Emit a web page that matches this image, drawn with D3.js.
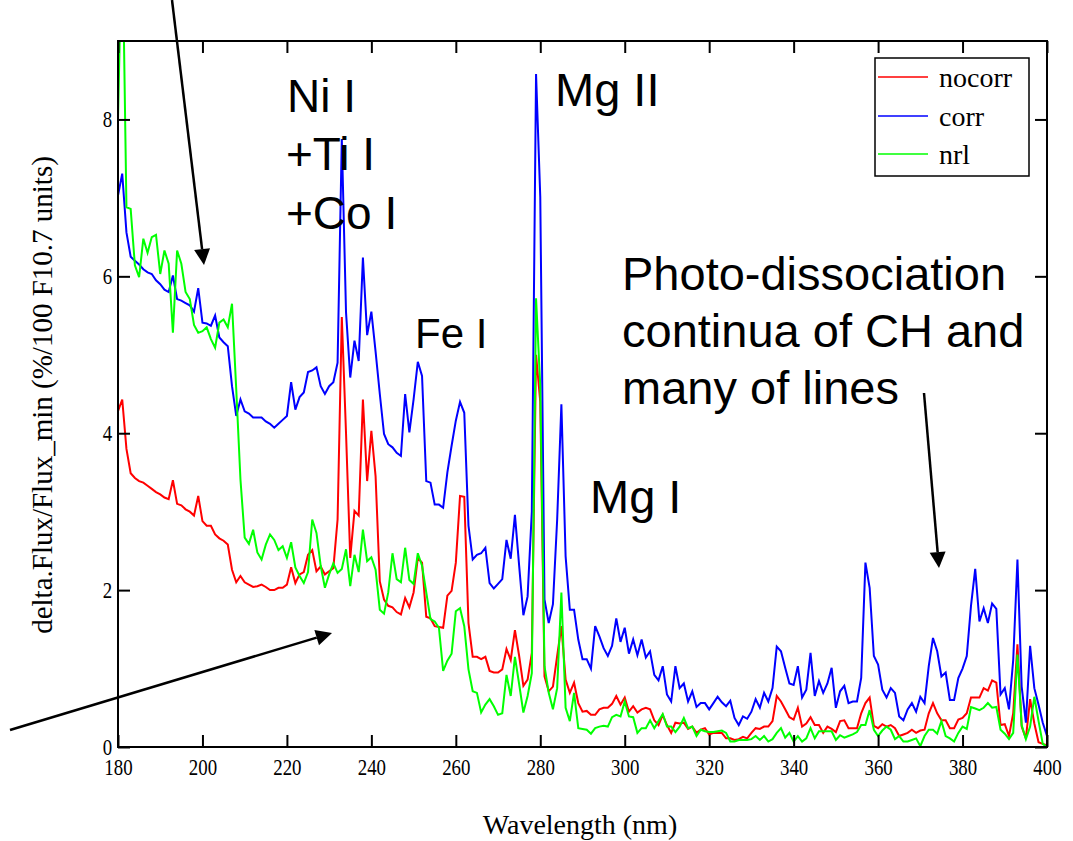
<!DOCTYPE html>
<html>
<head>
<meta charset="utf-8">
<script src="https://cdn.jsdelivr.net/npm/d3@7"></script>
<style>
html,body{margin:0;padding:0;background:#fff;}
svg{display:block;}
</style>
</head>
<body>
<svg id="chart" width="1073" height="841"></svg>
<script>
// ---- data ----
const wavelength = d3.range(180, 401); // nm, 1 nm sampling
const seriesNames = ["nocorr", "corr", "nrl"];
const seriesColors = ["#ff0000", "#0000ff", "#00ff00"];
const xTicks = [180,200,220,240,260,280,300,320,340,360,380,400];
const yTicks = [0,2,4,6,8];

const nocorr = [
4.28,4.43,3.80,3.49,3.43,3.39,3.37,3.33,3.29,3.25,
3.22,3.18,3.16,3.40,3.10,3.08,3.03,3.00,2.95,3.20,
2.88,2.82,2.82,2.71,2.66,2.63,2.58,2.26,2.10,2.18,
2.10,2.07,2.04,2.05,2.07,2.04,2.00,2.00,2.03,2.03,
2.07,2.29,2.09,2.20,2.23,2.45,2.51,2.24,2.30,2.20,
2.24,2.28,2.90,5.48,4.00,2.41,3.01,2.95,4.43,3.39,
4.03,3.45,2.11,1.88,1.80,1.78,1.72,1.69,1.90,1.78,
1.97,2.41,2.35,1.66,1.64,1.54,1.53,1.52,1.93,1.99,
2.35,3.20,3.19,1.58,1.15,1.15,1.12,1.15,0.97,0.95,
0.95,0.99,1.25,1.11,1.49,1.16,0.78,0.86,1.20,5.00,
4.40,0.90,0.71,0.77,1.16,1.54,0.86,0.69,0.82,0.56,
0.45,0.46,0.41,0.41,0.48,0.50,0.50,0.55,0.65,0.54,
0.63,0.45,0.52,0.44,0.48,0.50,0.48,0.34,0.28,0.41,
0.28,0.18,0.31,0.30,0.31,0.23,0.26,0.18,0.22,0.24,
0.16,0.18,0.18,0.18,0.11,0.11,0.09,0.10,0.13,0.11,
0.18,0.24,0.23,0.26,0.26,0.33,0.65,0.58,0.48,0.38,
0.35,0.50,0.26,0.30,0.38,0.28,0.28,0.18,0.26,0.23,
0.19,0.33,0.34,0.24,0.24,0.24,0.43,0.56,0.63,0.27,
0.24,0.29,0.26,0.28,0.24,0.14,0.16,0.18,0.22,0.18,
0.21,0.22,0.43,0.56,0.43,0.34,0.34,0.24,0.24,0.35,
0.37,0.43,0.63,0.63,0.63,0.75,0.72,0.85,0.82,0.28,
0.29,0.14,0.43,1.31,0.26,0.11,0.61,0.30,0.06,0.04,
0.02];

const corr = [
7.03,7.31,6.56,6.25,6.20,6.15,6.09,6.05,6.03,5.95,
5.90,5.83,5.80,6.01,5.71,5.69,5.66,5.63,5.55,5.85,
5.41,5.40,5.37,5.50,5.22,5.16,5.11,4.60,4.22,4.43,
4.28,4.25,4.20,4.20,4.20,4.15,4.12,4.07,4.12,4.17,
4.22,4.65,4.30,4.46,4.52,4.78,4.80,4.84,4.60,4.50,
4.60,4.65,4.90,7.75,5.54,4.71,5.18,4.92,6.24,5.25,
5.55,5.04,4.50,3.99,3.86,3.82,3.75,3.71,4.50,4.01,
4.43,4.91,4.73,3.39,3.37,3.09,3.09,3.05,3.50,3.84,
4.16,4.40,4.26,2.82,2.39,2.45,2.47,2.54,2.09,2.02,
2.08,2.14,2.64,2.40,2.96,2.31,1.68,1.92,3.00,8.58,
7.01,1.88,1.58,1.82,2.90,4.37,2.43,1.75,1.75,1.37,
1.12,1.12,1.00,1.54,1.41,1.26,1.16,1.29,1.64,1.34,
1.52,1.19,1.37,1.17,1.37,1.14,1.22,0.92,0.85,1.03,
0.67,0.58,1.03,0.75,0.81,0.58,0.71,0.51,0.56,0.56,
0.48,0.56,0.64,0.57,0.52,0.59,0.37,0.28,0.39,0.36,
0.45,0.61,0.50,0.69,0.58,0.75,1.28,1.22,1.01,0.81,
0.79,1.03,0.63,0.73,1.20,0.65,0.84,0.69,0.81,1.01,
0.50,0.71,0.78,0.56,0.58,0.58,0.88,2.35,2.03,1.16,
1.05,0.73,0.63,0.75,0.69,0.39,0.34,0.48,0.56,0.45,
0.64,0.56,1.03,1.39,1.22,0.90,0.95,0.60,0.60,0.88,
1.00,1.16,1.80,2.27,1.60,1.77,1.58,1.83,1.76,0.67,
0.75,0.48,1.11,2.39,0.77,0.31,1.29,0.75,0.54,0.31,
0.14];

const nrl = [
8.00,10.5,6.88,6.86,6.14,5.99,6.48,6.30,6.50,6.53,
6.03,6.33,6.16,5.28,6.33,6.16,5.80,5.71,5.38,5.28,
5.30,5.35,5.20,5.09,5.41,5.45,5.35,5.65,4.56,3.41,
2.67,2.59,2.77,2.48,2.39,2.58,2.71,2.64,2.51,2.56,
2.41,2.61,2.29,2.18,2.09,2.23,2.90,2.73,2.31,2.03,
2.20,2.34,2.22,2.27,2.52,2.05,2.45,2.23,2.77,2.37,
2.42,2.26,1.75,1.70,1.97,2.47,2.14,2.10,2.54,2.13,
2.08,2.47,2.31,1.97,1.63,1.60,1.52,0.97,1.10,1.19,
1.73,1.77,1.54,0.99,0.71,0.69,0.44,0.54,0.61,0.52,
0.41,0.43,0.92,0.65,1.15,0.80,0.44,0.65,0.94,5.72,
4.60,1.03,0.69,0.48,0.75,1.97,0.50,0.33,0.69,0.24,
0.23,0.22,0.17,0.24,0.26,0.27,0.26,0.38,0.41,0.39,
0.58,0.39,0.38,0.18,0.24,0.24,0.34,0.24,0.33,0.42,
0.26,0.26,0.19,0.26,0.37,0.24,0.26,0.14,0.22,0.20,
0.19,0.19,0.20,0.21,0.18,0.07,0.07,0.09,0.09,0.09,
0.10,0.14,0.09,0.14,0.07,0.10,0.18,0.24,0.12,0.18,
0.07,0.14,0.07,0.11,0.24,0.11,0.20,0.20,0.20,0.20,
0.09,0.15,0.12,0.14,0.16,0.19,0.28,0.28,0.47,0.22,
0.14,0.21,0.26,0.22,0.10,0.14,0.07,0.07,0.09,0.11,
0.01,0.14,0.22,0.22,0.17,0.33,0.14,0.11,0.07,0.18,
0.26,0.23,0.51,0.49,0.47,0.50,0.56,0.50,0.51,0.22,
0.17,0.10,0.18,1.18,0.28,0.10,0.26,0.64,0.33,0.04,
0.00];

const seriesValues = [nocorr, corr, nrl];

// ---- layout ----
const svg = d3.select("#chart");
const M = {left: 118, right: 1047, top: 41, bottom: 747};
const x = d3.scaleLinear().domain([180, 400]).range([M.left, M.right]);
const y = d3.scaleLinear().domain([0, 9]).range([M.bottom, M.top]);

svg.append("defs").append("clipPath").attr("id", "plotclip")
  .append("rect").attr("x", M.left).attr("y", M.top)
  .attr("width", M.right - M.left).attr("height", M.bottom - M.top);

// series lines
const line = d3.line().x((d, i) => x(wavelength[i])).y(d => y(d));
const gLines = svg.append("g").attr("clip-path", "url(#plotclip)");
seriesValues.forEach((vals, k) => {
  gLines.append("path").datum(vals)
    .attr("d", line)
    .attr("fill", "none")
    .attr("stroke", seriesColors[k])
    .attr("stroke-width", 2)
    .attr("stroke-linejoin", "miter");
});

// axes
const serif = "'Liberation Serif','Times New Roman',serif";
const tick = 12;
const axB = svg.append("g").attr("transform", `translate(0,${M.bottom})`)
  .call(d3.axisBottom(x).tickValues(xTicks).tickSizeInner(-tick).tickSizeOuter(0).tickPadding(12).tickFormat(d3.format("d")));
const axT = svg.append("g").attr("transform", `translate(0,${M.top})`)
  .call(d3.axisTop(x).tickValues(xTicks).tickSizeInner(-tick).tickSizeOuter(0).tickFormat(""));
const axL = svg.append("g").attr("transform", `translate(${M.left},0)`)
  .call(d3.axisLeft(y).tickValues(yTicks).tickSizeInner(-tick).tickSizeOuter(0).tickPadding(7).tickFormat(d3.format("d")));
const axR = svg.append("g").attr("transform", `translate(${M.right},0)`)
  .call(d3.axisRight(y).tickValues(yTicks).tickSizeInner(-tick).tickSizeOuter(0).tickFormat(""));
[axB, axT, axL, axR].forEach(a => {
  a.select(".domain").remove();
  a.selectAll("line").attr("stroke", "#000").attr("stroke-width", 2);
  a.selectAll("text").attr("font-family", serif).attr("font-size", 23).attr("fill", "#000")
    .attr("transform", "scale(0.82,1)");
});

// frame
svg.append("rect").attr("x", M.left).attr("y", M.top)
  .attr("width", M.right - M.left).attr("height", M.bottom - M.top)
  .attr("fill", "none").attr("stroke", "#000").attr("stroke-width", 2);

// axis titles
svg.append("text").attr("x", 580).attr("y", 834).attr("text-anchor", "middle")
  .attr("font-family", serif).attr("font-size", 28).text("Wavelength (nm)");
svg.append("text").attr("transform", "translate(52,395) rotate(-90)").attr("text-anchor", "middle")
  .attr("font-family", serif).attr("font-size", 29).text("delta.Flux/Flux_min (%/100 F10.7 units)");

// legend
const lg = svg.append("g");
lg.append("rect").attr("x", 875).attr("y", 58).attr("width", 154).attr("height", 118)
  .attr("fill", "#fff").attr("stroke", "#000").attr("stroke-width", 1.5);
const legY = [77, 116, 154];
seriesNames.forEach((n, k) => {
  lg.append("line").attr("x1", 878).attr("x2", 928).attr("y1", legY[k]).attr("y2", legY[k])
    .attr("stroke", seriesColors[k]).attr("stroke-width", 1.5);
  lg.append("text").attr("x", 939).attr("y", legY[k] + 9.5)
    .attr("font-family", serif).attr("font-size", 28).text(n);
});

// annotations
const sans = "'Liberation Sans',Arial,sans-serif";
const notes = [
  {t: "Ni I", x: 287, y: 112, s: 46},
  {t: "+Ti I", x: 286, y: 170, s: 46},
  {t: "+Co I", x: 286, y: 229, s: 46},
  {t: "Fe I", x: 415, y: 348, s: 42},
  {t: "Mg II", x: 555, y: 106, s: 47},
  {t: "Mg I", x: 590, y: 513, s: 47},
  {t: "Photo-dissociation", x: 622, y: 290, s: 47},
  {t: "continua of CH and", x: 622, y: 347, s: 47},
  {t: "many of lines", x: 622, y: 404, s: 47}
];
notes.forEach(n => svg.append("text").attr("x", n.x).attr("y", n.y)
  .attr("font-family", sans).attr("font-size", n.s).attr("fill", "#000").text(n.t));

// arrows
function arrow(x1, y1, x2, y2) {
  const L = 16, W = 8;
  const dx = x2 - x1, dy = y2 - y1, len = Math.hypot(dx, dy);
  const ux = dx / len, uy = dy / len;
  const bx = x2 - ux * L, by = y2 - uy * L;
  svg.append("line").attr("x1", x1).attr("y1", y1).attr("x2", bx).attr("y2", by)
    .attr("stroke", "#000").attr("stroke-width", 2.5);
  svg.append("path").attr("d",
    `M${x2},${y2}L${bx - uy * W},${by + ux * W}L${bx + uy * W},${by - ux * W}Z`)
    .attr("fill", "#000");
}
arrow(172, 0, 204, 265);
arrow(10, 730, 332, 633);
arrow(924, 393, 939, 568);
</script>
</body>
</html>
